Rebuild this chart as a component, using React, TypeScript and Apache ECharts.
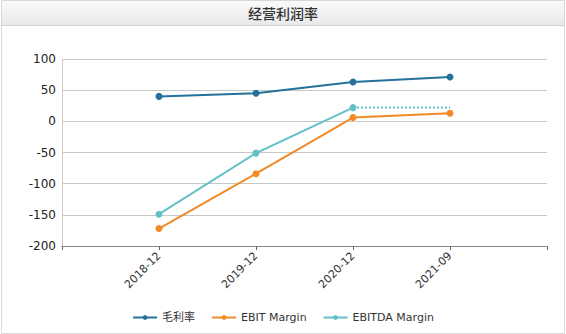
import React, { useEffect, useRef } from "react";
import * as echarts from "echarts";

const title = "经营利润率";
const categories = ["", "2018-12", "2019-12", "2020-12", "2021-09", ""];
const grossMargin = [null, 40, 45, 63, 71, null];
const ebitMargin = [null, -172, -84, 6, 13, null];
const ebitdaMargin = [null, -149, -51, 22, null, null];
const ebitdaCarry = [null, null, null, 22, 22, null];
const yTicks = { min: -200, max: 100, interval: 50 };

export default function App() {
  const ref = useRef<HTMLDivElement>(null);
  useEffect(() => {
    const chart = echarts.init(ref.current!, null, { renderer: "svg" });
    const font = "Verdana, 'DejaVu Sans', 'Noto Sans CJK SC', sans-serif";
    chart.setOption({
      animation: false,
      backgroundColor: "#fff",
      textStyle: { fontFamily: font },
      graphic: [
        {
          type: "rect",
          shape: { x: 1.5, y: 0.5, width: 563, height: 333 },
          style: { fill: "none", stroke: "#d8d8d8", lineWidth: 1 },
          silent: true,
        },
        {
          type: "rect",
          shape: { x: 2, y: 1, width: 562, height: 24 },
          style: {
            fill: new echarts.graphic.LinearGradient(0, 0, 0, 1, [
              { offset: 0, color: "#fafafa" },
              { offset: 1, color: "#e9e9e9" },
            ]),
          },
          silent: true,
        },
        {
          type: "line",
          shape: { x1: 2, y1: 25.5, x2: 564, y2: 25.5 },
          style: { stroke: "#d0d0d0", lineWidth: 1 },
          silent: true,
        },
        {
          type: "text",
          x: 283,
          y: 13,
          style: {
            text: title,
            font: "500 14px 'Noto Sans CJK SC', sans-serif",
            fill: "#333",
            align: "center",
            verticalAlign: "middle",
          },
          silent: true,
        },
      ],
      grid: { left: 62, right: 19, top: 59, bottom: 88 },
      legend: {
        bottom: 6,
        left: "center",
        itemWidth: 24,
        itemHeight: 6,
        itemGap: 16,
        textStyle: { fontSize: 11, color: "#333", fontFamily: font },
        data: ["毛利率", "EBIT Margin", "EBITDA Margin"],
      },
      xAxis: {
        type: "category",
        data: categories,
        boundaryGap: false,
        axisLine: { onZero: false, lineStyle: { color: "#888" } },
        axisTick: { show: true, lineStyle: { color: "#666" }, length: 4 },
        axisLabel: { rotate: 45, fontSize: 11, color: "#333", interval: 0, margin: 8 },
        splitLine: { show: false },
      },
      yAxis: {
        type: "value",
        min: yTicks.min,
        max: yTicks.max,
        interval: yTicks.interval,
        axisLine: { show: true, lineStyle: { color: "#ccc" } },
        axisTick: { show: false },
        axisLabel: { fontSize: 12, color: "#222", margin: 6 },
        splitLine: { lineStyle: { color: "#c8c8c8" } },
      },
      series: [
        {
          name: "毛利率",
          type: "line",
          data: grossMargin,
          color: "#24719b",
          symbol: "circle",
          symbolSize: 7,
          lineStyle: { width: 2 },
        },
        {
          name: "EBIT Margin",
          type: "line",
          data: ebitMargin,
          color: "#f28a26",
          symbol: "circle",
          symbolSize: 7,
          lineStyle: { width: 2 },
        },
        {
          name: "EBITDA Margin",
          type: "line",
          data: ebitdaMargin,
          color: "#63c1c6",
          symbol: "circle",
          symbolSize: 7,
          lineStyle: { width: 2 },
        },
        {
          name: "EBITDA carry",
          type: "line",
          data: ebitdaCarry,
          color: "#63c1c6",
          symbol: "none",
          lineStyle: { width: 2, type: "dotted" },
          z: 1,
        },
      ],
    });
    return () => chart.dispose();
  }, []);
  return (
    <div
      ref={ref}
      style={{ width: 566, height: 334, position: "absolute", left: 0, top: 0 }}
    />
  );
}
